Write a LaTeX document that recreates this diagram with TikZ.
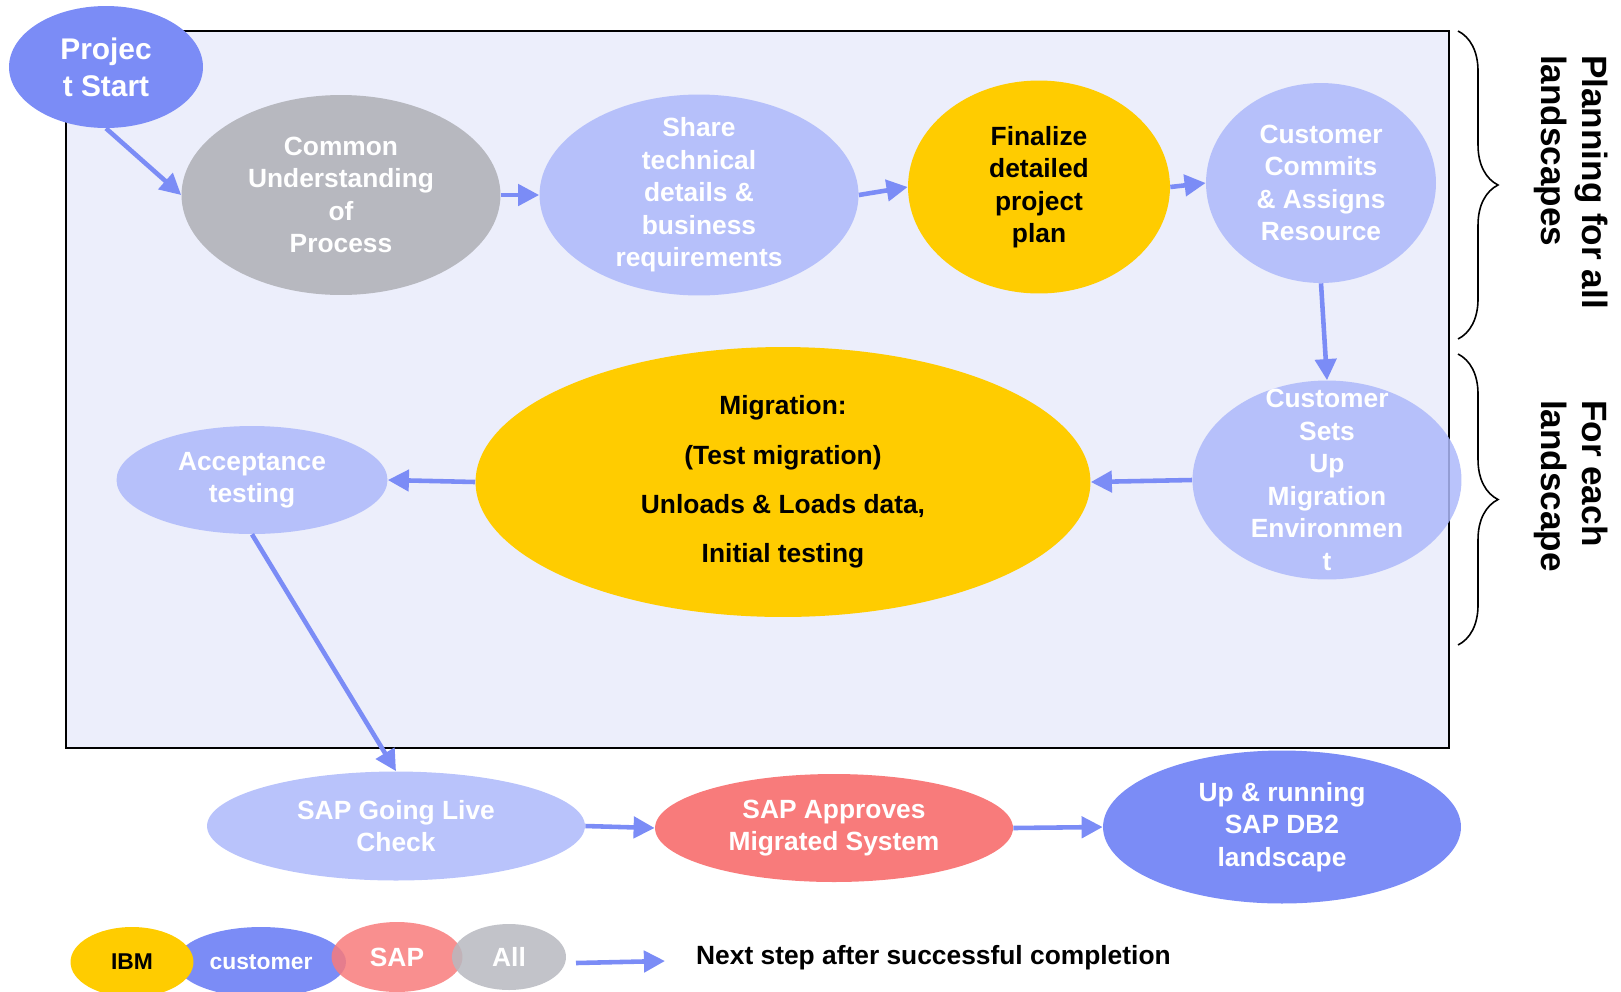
\documentclass[tikz,border=0pt]{standalone}
\usepackage{fontspec}
\setmainfont{Liberation Sans}
\usepackage{tikz}
\usetikzlibrary{shapes.geometric,arrows.meta,decorations.pathreplacing}
\definecolor{ibmyellow}{HTML}{FFCC00}
\definecolor{custblue}{HTML}{7B8CF6}
\definecolor{custlight}{HTML}{ADB9FA}
\definecolor{sapred}{HTML}{F87B7B}
\definecolor{allgray}{HTML}{B7B8BF}
\definecolor{framefill}{HTML}{ECEEFB}

\begin{document}
\begin{tikzpicture}[x=0.02cm,y=-0.02cm,>={Triangle[length=12pt,width=12pt]},
	bub/.style 2 args={ellipse,minimum width=#1,minimum height=#2,inner sep=0pt,align=center,
		text=white,font=\bfseries\fontsize{15}{18.5}\selectfont},
	light/.style={fill=custlight,fill opacity=0.85,text opacity=1},
	over/.style={label={[align=center,text=white,font=\bfseries\fontsize{15}{18.5}\selectfont]center:#1}},
	flow/.style={->,line width=2.6pt,color=custblue},
	brc/.style={decorate,decoration={brace,amplitude=0.8cm},line width=0.9pt},
	side/.style={rotate=-90,align=left,font=\bfseries\fontsize{20}{23}\selectfont},
	key/.style={ellipse,minimum width=#1,minimum height=1.4cm,inner sep=0pt,text=white,
		font=\bfseries\fontsize{15}{18}\selectfont}]
\useasboundingbox (0,0) rectangle (1621,991);

% planning area
\draw[fill=framefill,line width=0.9pt] (66,31) rectangle (1449,748);

\node[bub={3.88cm}{2.44cm},fill=custblue,font=\bfseries\fontsize{17}{21}\selectfont] (start) at (106,67) {Projec\\t Start};
\node[bub={6.38cm}{4.0cm},fill=allgray] (common) at (341,195) {Common\\Understanding\\of\\Process};
\node[bub={6.38cm}{4.02cm},light,over={Share\\technical\\details \&\\business\\requirements}] (share) at (699,195) {};
\node[bub={5.24cm}{4.26cm},fill=ibmyellow,text=black] (final) at (1039,187) {Finalize\\detailed\\project\\plan};
\node[bub={4.6cm}{4.0cm},light] (commit) at (1321,183) {Customer\\Commits\\\& Assigns\\Resource};
\node[bub={5.38cm}{3.98cm},light,over={Customer\\Sets\\Up\\Migration\\Environmen\\t}] (setup) at (1327,480) {};
\node[bub={12.3cm}{5.4cm},fill=ibmyellow,text=black,font=\bfseries\fontsize{15}{28}\selectfont] (migr) at (783,482)
	{Migration:\\(Test migration)\\Unloads \& Loads data,\\Initial testing};
\node[bub={5.42cm}{2.16cm},light] (accept) at (252,480) {Acceptance\\testing};
\node[bub={7.56cm}{2.18cm},light] (golive) at (396,826) {SAP Going Live\\Check};
\node[bub={7.16cm}{2.16cm},fill=sapred] (approve) at (834,828) {SAP Approves\\Migrated System};
\node[bub={7.16cm}{3.06cm},fill=custblue] (uprun) at (1282,827) {Up \& running\\SAP DB2\\landscape};

\draw[flow] (start.south)-- (common.west);
\draw[flow] (common.east)-- (share.west);
\draw[flow] (share.east) -- (final.west);
\draw[flow] (final.east) -- (commit.west);
\draw[flow] (commit.south)-- (setup.north);
\draw[flow] (setup.west) -- (migr.east);
\draw[flow] (migr.west)  -- (accept.east);
\draw[flow] (accept.south)-- (golive.north);
\draw[flow] (golive.east)-- (approve.west);
\draw[flow] (approve.east)-- (uprun.west);

% braces
\draw[brc] (1458,31) -- (1458,339);
\draw[brc] (1458,354) -- (1458,645);
\node[side] (plan) at (1571,182) {Planning for all\\landscapes};
\node[side] (each) at (1571,486) {For each\\landscape};

% legend
\node[key=3.4cm,fill=custblue,font=\bfseries\fontsize{13}{16}\selectfont] (cust) at (261,962) {customer};
\node[key=2.46cm,fill=ibmyellow,text=black,font=\bfseries\fontsize{13}{16}\selectfont] (ibm) at (132,962) {IBM};
\node[key=2.62cm,fill=sapred,fill opacity=0.85,text opacity=1] (sap) at (397,957) {SAP};
\node[key=2.28cm,fill=allgray,fill opacity=0.85,text opacity=1,minimum height=1.32cm] (all) at (509,957) {All};
\coordinate (legA) at (576,963);
\coordinate (legB) at (665,961);
\draw[flow] (legA) -- (legB);
\node[anchor=west,font=\bfseries\fontsize{15}{18}\selectfont] (note) at (690,958) {Next step after successful completion};
\end{tikzpicture}
\end{document}
